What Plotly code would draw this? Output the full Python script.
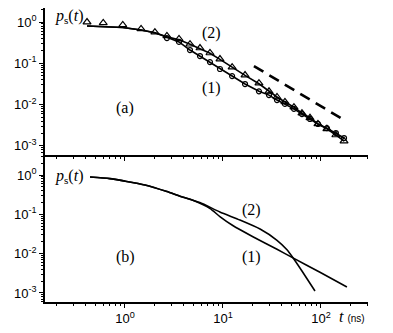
import plotly.graph_objects as go
from plotly.subplots import make_subplots

# panel (a): measured points
t_pts = [0.41, 0.60, 0.95, 1.46, 2.02, 2.68, 3.56, 4.61, 5.83, 7.37, 9.32, 12.4,
         16.8, 23.3, 29.5, 35.6, 42.9, 53.0, 64.0, 77.3, 93.2, 115, 142, 172]
tri_2 = [1.0, 0.95, 0.85, 0.68, 0.57, 0.46, 0.39, 0.29, 0.235, 0.178, 0.127, 0.081,
         0.052, 0.033, 0.021, 0.0153, 0.0116, 0.0087, 0.0062, 0.0048, 0.0034, 0.0026,
         0.00184, 0.00131]
t_circ = t_pts[5:]
circ_1 = [0.41, 0.33, 0.21, 0.15, 0.107, 0.073, 0.049, 0.0315, 0.021, 0.017, 0.0129,
          0.0104, 0.0079, 0.0059, 0.0045, 0.0034, 0.0027, 0.00205, 0.00155]

# panel (a): fitted curves
fit_2 = [0.80, 0.78, 0.74, 0.64, 0.55, 0.44, 0.37, 0.29, 0.23, 0.175, 0.125, 0.08,
         0.051, 0.032, 0.021, 0.0153, 0.0116, 0.0087, 0.0062, 0.0048, 0.0034, 0.0026,
         0.00184, 0.00131]
fit_1 = [0.80, 0.78, 0.74, 0.64, 0.55, 0.43, 0.33, 0.21, 0.15, 0.107, 0.073, 0.049,
         0.0315, 0.021, 0.017, 0.0129, 0.0104, 0.0079, 0.0059, 0.0045, 0.0034, 0.0027,
         0.00205, 0.00155]

# power-law guide (dashed)
t_guide = [20.7, 172]
p_guide = [0.086, 0.00424]

# panel (b): model curves
t_b2 = [0.44, 0.70, 1.0, 1.6, 2.68, 3.64, 5.8, 9.3, 14.9, 23.9, 35.6, 45.0, 51.8, 64.0, 86.9]
p_b2 = [0.89, 0.81, 0.70, 0.56, 0.38, 0.29, 0.20, 0.115, 0.0716, 0.0423, 0.0219,
        0.0126, 0.0079, 0.00363, 0.00112]
t_b1 = [0.44, 0.70, 1.0, 1.6, 2.68, 3.64, 5.0, 7.4, 9.3, 12.6, 20.2, 35.6, 51.8, 97.7, 184]
p_b1 = [0.89, 0.81, 0.70, 0.56, 0.38, 0.29, 0.225, 0.14, 0.088, 0.052, 0.027, 0.0129,
        0.0078, 0.00335, 0.00142]

x_major = [1, 10, 100]
x_labels = ['10<sup>0</sup>', '10<sup>1</sup>', '10<sup>2</sup>']
y_major = [0.001, 0.01, 0.1, 1]
y_labels = ['10<sup>-3</sup>', '10<sup>-2</sup>', '10<sup>-1</sup>', '10<sup>0</sup>']


def minor_vals(lo, hi):
    out = []
    for e in range(lo, hi):
        out += [m * 10.0 ** e for m in range(2, 10)]
    return out


# page body adds an 8px margin, so the figure is laid out 8px up/left
OFF = 8
W, H = 393, 333
L, T = 45 - OFF, 8 - OFF
R, B = W - (368 - OFF), H - (302 - OFF)
PW, PH = W - L - R, H - T - B


def px(x, y):
    # reference pixel -> paper coords
    return (x - OFF - L) / PW, (H - B - (y - OFF)) / PH


fig = make_subplots(rows=2, cols=1, shared_xaxes=True, vertical_spacing=0)

line = dict(color='black', width=1.6)
fig.add_trace(go.Scatter(x=t_pts, y=fit_2, mode='lines', line=line), row=1, col=1)
fig.add_trace(go.Scatter(x=t_pts, y=fit_1, mode='lines', line=line), row=1, col=1)
fig.add_trace(go.Scatter(
    x=t_circ, y=circ_1, mode='markers',
    marker=dict(symbol='circle-open', size=5, color='black', line=dict(width=1.2))
), row=1, col=1)
fig.add_trace(go.Scatter(
    x=t_pts, y=tri_2, mode='markers',
    marker=dict(symbol='triangle-up-open', size=7, color='black', line=dict(width=1.2))
), row=1, col=1)
fig.add_trace(go.Scatter(
    x=t_guide, y=p_guide, mode='lines',
    line=dict(color='black', width=2.6, dash='11px,7px')
), row=1, col=1)

fig.add_trace(go.Scatter(x=t_b2, y=p_b2, mode='lines', line=line,
                         line_shape='spline', line_smoothing=0.6), row=2, col=1)
fig.add_trace(go.Scatter(x=t_b1, y=p_b1, mode='lines', line=line,
                         line_shape='spline', line_smoothing=0.6), row=2, col=1)

axis_common = dict(
    type='log', showgrid=False, zeroline=False, showline=True, linecolor='black',
    linewidth=1.5, ticks='outside', ticklen=4, tickcolor='black', tickwidth=1,
    automargin=False,
    tickfont=dict(family='Liberation Sans', size=13, color='black'),
)
xr = [-0.816, 2.48]
fig.update_xaxes(**axis_common, range=xr, tickmode='array', tickvals=x_major,
                 ticktext=x_labels,
                 minor=dict(tickmode='array', tickvals=minor_vals(-1, 3),
                            ticks='outside', ticklen=2, tickcolor='black'))
fig.update_xaxes(showticklabels=False, row=1, col=1)
fig.update_yaxes(**axis_common, tickmode='array', tickvals=y_major, ticktext=y_labels,
                 minor=dict(tickmode='array', tickvals=minor_vals(-4, 1),
                            ticks='outside', ticklen=2, tickcolor='black'))
fig.update_yaxes(range=[-3.22, 0.34], row=1, col=1)
fig.update_yaxes(range=[-3.23, 0.51], row=2, col=1)

serif = dict(family='Liberation Serif', size=16, color='black')
labels = [
    (53, 16, '<i>p</i><sub>s</sub>(<i>t</i>)', 'left'),
    (53, 176, '<i>p</i><sub>s</sub>(<i>t</i>)', 'left'),
    (125, 108, '(a)', 'center'),
    (125, 257, '(b)', 'center'),
    (211, 33, '(2)', 'center'),
    (211, 88, '(1)', 'center'),
    (251, 210, '(2)', 'center'),
    (251, 257, '(1)', 'center'),
]
for x, y, text, anchor in labels:
    ax, ay = px(x, y)
    fig.add_annotation(x=ax, y=ay, xref='paper', yref='paper', text=text,
                       showarrow=False, xanchor=anchor, yanchor='middle', font=serif)

ax, ay = px(337, 316)
fig.add_annotation(x=ax, y=ay, xref='paper', yref='paper',
                   text="<i>t</i> <span style='font-family:Liberation Sans;font-size:10px'>(ns)</span>",
                   showarrow=False, xanchor='left', yanchor='middle', font=serif)

fig.update_layout(
    width=W, height=H, showlegend=False,
    margin=dict(l=L, r=R, t=T, b=B),
    plot_bgcolor='white', paper_bgcolor='white',
)

fig.write_html("out.html")
